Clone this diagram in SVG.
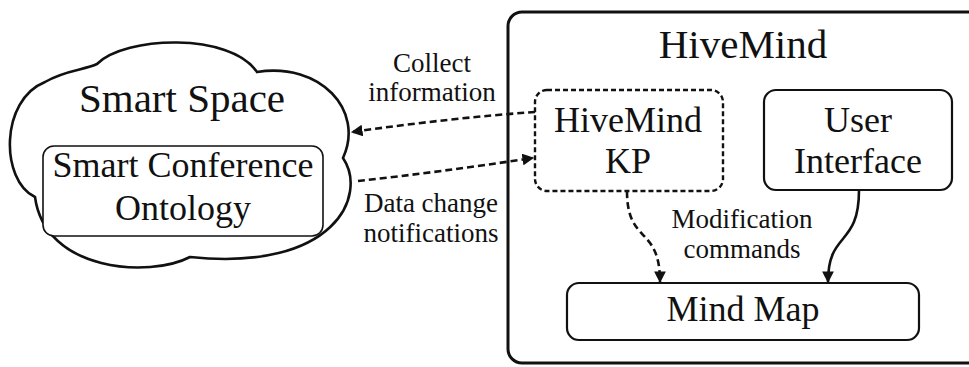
<svg xmlns="http://www.w3.org/2000/svg" width="969" height="367" viewBox="0 0 969 367">
<style>
text{font-family:"Liberation Serif","Times New Roman",serif;fill:#111;text-anchor:middle}
.big{font-size:41px}
.mid{font-size:36px}
.lbl{font-size:27px}
.box{fill:#fff;stroke:#111;stroke-width:2.2}
.edge{fill:none;stroke:#111;stroke-width:2.6}
.dash{stroke-dasharray:7,4}
</style>
<defs>
<marker id="ah" viewBox="0 0 10 10" refX="9" refY="5" markerWidth="4.5" markerHeight="4.5" orient="auto" markerUnits="strokeWidth">
<path d="M0,0 L10,5 L0,10 Z" fill="#111"/>
</marker>
</defs>
<rect x="0" y="0" width="969" height="367" fill="#fff"/>
<g id="hivemind">
<rect x="508" y="12" width="480" height="351" rx="14" fill="#fff" stroke="#111" stroke-width="3"/>
<text class="big" x="743" y="58">HiveMind</text>
</g>
<g id="smartspace">
<path d="M97,64 C125,36 230,32 257,72 C320,62 365,110 343,158 C368,195 335,272 190,257 C150,278 45,272 35,197 C0,180 0,100 45,82 C65,70 85,70 97,64 Z" fill="#fff" stroke="#111" stroke-width="2.6"/>
<text class="big" x="182" y="112">Smart Space</text>
</g>
<g id="ontology">
<rect x="43" y="146" width="280" height="90" rx="11" fill="#fff" stroke="#111" stroke-width="1.6"/>
<text class="mid" x="183" y="177">Smart Conference</text>
<text class="mid" x="183" y="220">Ontology</text>
</g>
<g id="kp">
<rect x="535" y="90" width="188" height="101" rx="12" fill="#fff" stroke="#111" stroke-width="2.4" stroke-dasharray="5,3"/>
<text class="mid" x="628" y="132">HiveMind</text>
<text class="mid" x="628" y="173">KP</text>
</g>
<g id="ui">
<rect x="764" y="90" width="188" height="100" rx="12" class="box"/>
<text class="mid" x="858" y="132">User</text>
<text class="mid" x="858" y="173">Interface</text>
</g>
<g id="mindmap">
<rect x="567" y="283" width="352" height="57" rx="12" class="box"/>
<text class="mid" x="743" y="321">Mind Map</text>
</g>
<g id="connectors">
<path class="edge dash" d="M535,112 Q450,118 352,132" marker-end="url(#ah)"/>
<path class="edge dash" d="M358,181 Q440,172 533,158" marker-end="url(#ah)"/>
<path class="edge dash" d="M627,191 C627,245 660,225 660,282" marker-end="url(#ah)"/>
<path class="edge" d="M859,190 C859,248 828,230 828,282" marker-end="url(#ah)"/>
</g>
<g id="labels">
<text class="lbl" x="432" y="72">Collect</text>
<text class="lbl" x="432" y="101">information</text>
<text class="lbl" x="431" y="212">Data change</text>
<text class="lbl" x="431" y="242">notifications</text>
<text class="lbl" x="742" y="228">Modification</text>
<text class="lbl" x="742" y="258">commands</text>
</g>
</svg>
